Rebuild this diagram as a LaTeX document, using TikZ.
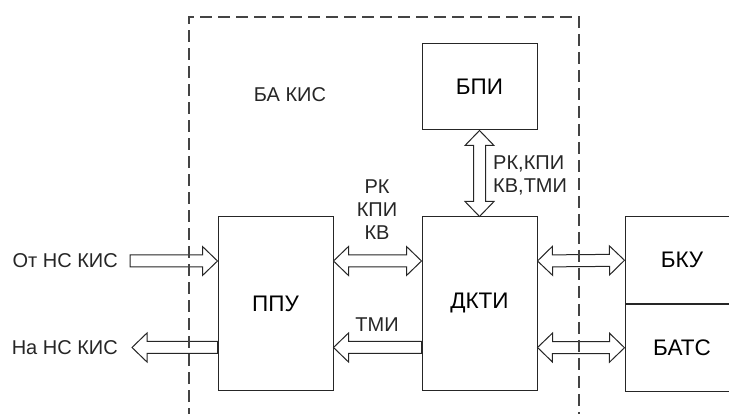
\documentclass[tikz,border=0pt]{standalone}
\usepackage{fontspec}
\setmainfont{Liberation Sans}
\usetikzlibrary{positioning, calc}
\definecolor{linegray}{HTML}{262626}
\definecolor{dashgray}{HTML}{444444}

% hollow block arrow, tail #1, tip #2
\newcommand\blockone[2]{%
  \coordinate (ta) at (#1); \coordinate (tb) at (#2);
  \coordinate (tc) at ($(tb)!15pt!(ta)$);
  \draw[fatline] ($(ta)!6pt!90:(tb)$) -- ($(tc)!6pt!90:(tb)$)
    -- ($(tc)!14.5pt!90:(tb)$) -- (tb) -- ($(tc)!14.5pt!-90:(tb)$)
    -- ($(tc)!6pt!-90:(tb)$) -- ($(ta)!6pt!-90:(tb)$) -- cycle;}
% hollow block arrow with two heads
\newcommand\blocktwo[2]{%
  \coordinate (ta) at (#1); \coordinate (tb) at (#2);
  \coordinate (tc) at ($(ta)!15pt!(tb)$);
  \coordinate (td) at ($(tb)!15pt!(ta)$);
  \draw[fatline] (ta) -- ($(tc)!14.5pt!90:(tb)$) -- ($(tc)!6pt!90:(tb)$)
    -- ($(td)!6pt!90:(tb)$) -- ($(td)!14.5pt!90:(tb)$) -- (tb)
    -- ($(td)!14.5pt!-90:(tb)$) -- ($(td)!6pt!-90:(tb)$)
    -- ($(tc)!6pt!-90:(tb)$) -- ($(tc)!14.5pt!-90:(tb)$) -- cycle;}

\begin{document}
\begin{tikzpicture}[
    x=1pt, y=-1pt,
    node distance=88pt,
    block/.style={
        draw=linegray, line width=1pt, rectangle,
        inner sep=0pt, minimum width=115, minimum height=173,
        font=\fontsize{22.5}{26}\selectfont,
    },
    lbl/.style={
        inner sep=0pt, align=center, text=linegray,
        font=\fontsize{20}{23}\selectfont,
    },
    fatline/.style={draw=linegray, line width=1pt, fill=white, line join=miter},
    bordash/.style={draw=dashgray, line width=1.5pt, dash pattern=on 12pt off 6pt},
]
\useasboundingbox (0,0) rectangle (729,414);

% Blocks
\node[block] (ppu) at (275.5,303.5) {ППУ};
\node[block, right=of ppu] (dkti) {ДКТИ};
\node[block, minimum height=86, above=86pt of dkti] (bpi) {БПИ};
\node[block, minimum width=120, minimum height=86.5, anchor=north west]
    (bku) at ($(dkti.north east)+(87,0)$) {\hspace*{-6pt}БКУ};
\node[block, minimum width=120, minimum height=86.5, below=0pt of bku] (bats) {\hspace*{-6pt}БАТС};

% Rows and free ends
\coordinate (rowa) at (0,261);
\coordinate (rowb) at (0,347.5);
\coordinate (otpt) at (130,261);
\coordinate (napt) at (132,347.5);

% Labels
\node[lbl, anchor=east] (otns) at (118,261) {От НС КИС};
\node[lbl, anchor=east] (nans) at (118,347.5) {На НС КИС};
\node[lbl] (bakis) at (290,95) {БА КИС};
\node[lbl] (cmdup) at (377,210) {РК\\КПИ\\КВ};
\node[lbl] (tmi) at (377,325) {ТМИ};
\node[lbl, align=left, anchor=west] (cmdbpi) at (493,175) {РК,КПИ\\КВ,ТМИ};

% Connectors
\blockone{otpt}{ppu.west |- rowa}
\blockone{ppu.west |- rowb}{napt}
\blocktwo{ppu.east |- rowa}{dkti.west |- rowa}
\blockone{dkti.west |- rowb}{ppu.east |- rowb}
\blocktwo{bpi.south}{dkti.north}
\blocktwo{dkti.east |- rowa}{bku.west}
\blocktwo{dkti.east |- rowb}{bats.west}

% BA KIS border
\draw[bordash] (189,420) -- (189,17) -- (579,17) -- (579,420);

\end{tikzpicture}
\end{document}
